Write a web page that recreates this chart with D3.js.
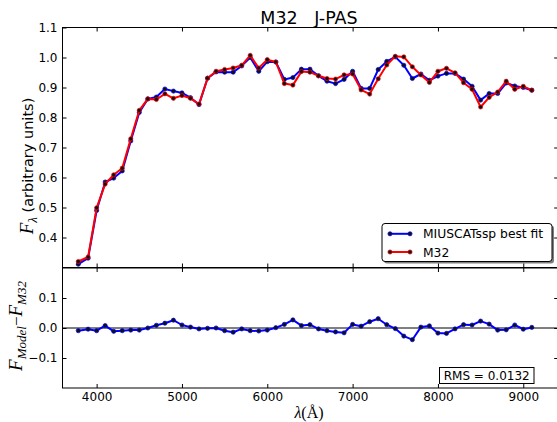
<!DOCTYPE html>
<html>
<head>
<meta charset="utf-8">
<script src="https://cdn.jsdelivr.net/npm/d3@7"></script>
<style>
  html, body { margin: 0; padding: 0; background: #fff; }
  svg { display: block; }
  .tick text { font-family: "DejaVu Sans", sans-serif; font-size: 12px; fill: #000; }
  .tick line { stroke: #000; stroke-width: 1; }
  .domain { display: none; }
</style>
</head>
<body>
<svg id="chart" width="557" height="422"></svg>
<script>
// J-PAS filter central wavelengths (Angstrom)
const wavelengths = [3785, 3900, 4000, 4100, 4200, 4300, 4400, 4500, 4600, 4700,
  4800, 4900, 5000, 5100, 5200, 5300, 5400, 5500, 5600, 5700,
  5800, 5900, 6000, 6100, 6200, 6300, 6400, 6500, 6600, 6700,
  6800, 6900, 7000, 7100, 7200, 7300, 7400, 7500, 7600, 7700,
  7800, 7900, 8000, 8100, 8200, 8300, 8400, 8500, 8600, 8700,
  8800, 8900, 9000, 9100];

// MIUSCAT SSP best-fit photo-spectrum
const modelFlux = [0.311, 0.331, 0.490, 0.585, 0.598, 0.622, 0.722, 0.817, 0.862, 0.868,
  0.895, 0.888, 0.882, 0.866, 0.843, 0.931, 0.952, 0.951, 0.951, 0.972,
  1.000, 0.954, 0.986, 0.985, 0.927, 0.933, 0.961, 0.961, 0.939, 0.921,
  0.913, 0.927, 0.954, 0.897, 0.897, 0.960, 0.987, 1.002, 0.974, 0.930,
  0.945, 0.924, 0.938, 0.947, 0.947, 0.928, 0.904, 0.858, 0.880, 0.880,
  0.915, 0.905, 0.900, 0.891];

// Observed M32 photo-spectrum
const m32Flux = [0.320, 0.335, 0.499, 0.578, 0.609, 0.631, 0.729, 0.824, 0.862, 0.860,
  0.879, 0.864, 0.873, 0.864, 0.845, 0.931, 0.954, 0.960, 0.965, 0.974,
  1.007, 0.965, 0.993, 0.985, 0.913, 0.908, 0.953, 0.951, 0.939, 0.930,
  0.928, 0.942, 0.945, 0.892, 0.878, 0.929, 0.975, 1.004, 1.002, 0.969,
  0.942, 0.917, 0.954, 0.964, 0.949, 0.916, 0.894, 0.835, 0.867, 0.885,
  0.921, 0.894, 0.904, 0.891];

// Residuals F_Model - F_M32
const residuals = [-0.009, -0.004, -0.009, 0.008, -0.011, -0.009, -0.007, -0.007, 0.000, 0.009,
  0.016, 0.026, 0.010, 0.003, -0.003, -0.001, 0.000, -0.009, -0.014, -0.003,
  -0.009, -0.010, -0.007, 0.001, 0.012, 0.027, 0.008, 0.011, -0.003, -0.009,
  -0.013, -0.016, 0.012, 0.006, 0.021, 0.031, 0.011, -0.002, -0.027, -0.039,
  0.003, 0.007, -0.017, -0.018, -0.003, 0.011, 0.010, 0.023, 0.013, -0.007,
  -0.006, 0.010, -0.004, 0.002];

const xTicks = [4000, 5000, 6000, 7000, 8000, 9000];
const topTicks = [0.4, 0.5, 0.6, 0.7, 0.8, 0.9, 1.0, 1.1];
const botTicks = [-0.1, 0.0, 0.1];
const titleText = "M32   J-PAS";
const legendLabels = ["MIUSCATssp best fit", "M32"];
const rmsText = "RMS = 0.0132";

const svg = d3.select("#chart");
const left = 62.5, right = 557.4;
const rightSpine = 558.2;
const topY0 = 27.5, topY1 = 267.5, botY0 = 268, botY1 = 388;

const x = d3.scaleLinear().domain([3600, 9400]).range([left, right]);
const yTop = d3.scaleLinear().domain([0.3, 1.1]).range([topY1, topY0]);
const yBot = d3.scaleLinear().domain([-0.2, 0.2]).range([botY1, botY0]);

const blue = "#0000ff", red = "#ff0000";

function frame(y0, y1, yScale, yTickVals, withLabels) {
  const g = svg.append("g");
  g.append("g").attr("transform", `translate(0,${y1})`)
    .call(d3.axisBottom(x).tickValues(xTicks).tickSize(-4).tickPadding(4)
      .tickFormat(withLabels ? d3.format("d") : ""));
  g.append("g").attr("transform", `translate(0,${y0})`)
    .call(d3.axisTop(x).tickValues(xTicks).tickSize(-4).tickFormat(""));
  g.append("g").attr("transform", `translate(${left},0)`)
    .call(d3.axisLeft(yScale).tickValues(yTickVals).tickSize(-4).tickPadding(5)
      .tickFormat(v => (Math.abs(v) < 1e-9 ? "0.0" : d3.format(".1f")(v)).replace("-", "\u2212")));
  g.append("g").attr("transform", `translate(${rightSpine},0)`)
    .call(d3.axisRight(yScale).tickValues(yTickVals).tickSize(-4).tickFormat(""));
  g.append("rect").attr("x", left).attr("y", y0)
    .attr("width", rightSpine - left).attr("height", y1 - y0)
    .attr("fill", "none").attr("stroke", "#000").attr("stroke-width", 1);
  return g;
}

function series(vals, yScale, color) {
  const ln = d3.line().x((d, i) => x(wavelengths[i])).y(d => yScale(d));
  svg.append("path").attr("d", ln(vals))
    .attr("fill", "none").attr("stroke", color).attr("stroke-width", 2)
    .attr("stroke-linejoin", "round");
  svg.append("g").selectAll("circle").data(vals).join("circle")
    .attr("cx", (d, i) => x(wavelengths[i])).attr("cy", d => yScale(d))
    .attr("r", 2.1).attr("fill", "#111").attr("stroke", color).attr("stroke-width", 0.7);
}

// Upper panel: spectra
frame(topY0, topY1, yTop, topTicks, false);
series(modelFlux, yTop, blue);
series(m32Flux, yTop, red);

// Lower panel: residuals
frame(botY0, botY1, yBot, botTicks, true);
svg.append("line").attr("x1", left).attr("x2", rightSpine)
  .attr("y1", yBot(0)).attr("y2", yBot(0)).attr("stroke", "#000").attr("stroke-width", 1);
series(residuals, yBot, blue);

// Title
svg.append("text").attr("x", 309).attr("y", 23.5).attr("text-anchor", "middle")
  .style("white-space", "pre")
  .attr("font-family", "DejaVu Sans, sans-serif").attr("font-size", 17.5).text(titleText);

// Axis labels
const serif = "Liberation Serif, DejaVu Serif, serif";
const yl = svg.append("text").attr("transform", "translate(33,166) rotate(-90)")
  .attr("text-anchor", "middle");
yl.append("tspan").attr("font-family", serif).attr("font-style", "italic").attr("font-size", 19).text("F");
yl.append("tspan").attr("font-family", serif).attr("font-style", "italic").attr("font-size", 13)
  .attr("dy", 4).text("\u03bb");
yl.append("tspan").attr("font-family", "DejaVu Sans, sans-serif").attr("font-size", 14.5)
  .attr("dy", -4).style("white-space", "pre").text(" (arbitrary units)");

const rl = svg.append("text").attr("transform", "translate(22,326) rotate(-90)")
  .attr("text-anchor", "middle").attr("font-family", serif).attr("font-style", "italic");
rl.append("tspan").attr("font-size", 19).text("F");
rl.append("tspan").attr("font-size", 13).attr("dy", 4).text("Model");
rl.append("tspan").attr("font-size", 17).attr("font-style", "normal").attr("dy", -4).text("\u2212");
rl.append("tspan").attr("font-size", 19).text("F");
rl.append("tspan").attr("font-size", 13).attr("dy", 4).text("M32");

const xl = svg.append("text").attr("x", 309).attr("y", 418).attr("text-anchor", "middle")
  .attr("font-family", serif).attr("font-size", 16);
xl.append("tspan").attr("font-style", "italic").text("\u03bb");
xl.append("tspan").text("(\u00c5)");

// Legend
const lg = svg.append("g");
lg.append("rect").attr("x", 384).attr("y", 225.5).attr("width", 170).attr("height", 38)
  .attr("rx", 3).attr("fill", "#000").attr("opacity", 0.5);
lg.append("rect").attr("x", 382).attr("y", 223.5).attr("width", 170).attr("height", 38)
  .attr("rx", 3).attr("fill", "#fff").attr("stroke", "#000").attr("stroke-width", 1);
[[blue, 233.8], [red, 252]].forEach(([c, yy], k) => {
  lg.append("line").attr("x1", 390).attr("x2", 410).attr("y1", yy).attr("y2", yy)
    .attr("stroke", c).attr("stroke-width", 2);
  [390, 410].forEach(cx => lg.append("circle").attr("cx", cx).attr("cy", yy).attr("r", 2.1)
    .attr("fill", "#111").attr("stroke", c).attr("stroke-width", 0.7));
  lg.append("text").attr("x", 423).attr("y", yy + 4.5)
    .attr("font-family", "DejaVu Sans, sans-serif").attr("font-size", 12.3).text(legendLabels[k]);
});

// RMS box
svg.append("rect").attr("x", 439.5).attr("y", 367.5).attr("width", 94.5).attr("height", 16)
  .attr("fill", "#fff").attr("stroke", "#000").attr("stroke-width", 1);
svg.append("text").attr("x", 486.7).attr("y", 380).attr("text-anchor", "middle")
  .attr("font-family", "DejaVu Sans, sans-serif").attr("font-size", 12).text(rmsText);
</script>
</body>
</html>
